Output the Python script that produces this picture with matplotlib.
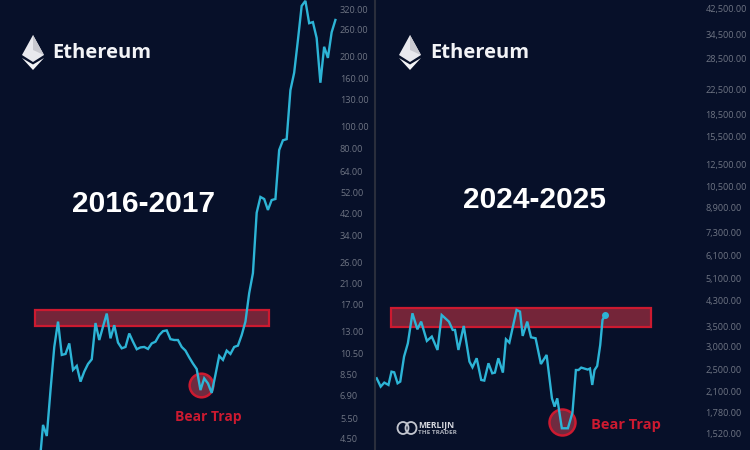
import matplotlib
matplotlib.use('Agg')
import matplotlib.pyplot as plt
from matplotlib.patches import Polygon, Rectangle, Ellipse

# Weekly closes
left_prices = [3.4, 5.17, 4.63, 7.31, 11.2, 14.4, 10.35, 10.45, 11.6, 8.92, 9.28, 7.94, 8.77, 9.46, 9.91,
               14.2, 12.0, 13.7, 15.6, 12.2, 13.9, 11.7, 11.05, 11.2, 12.8, 11.8, 10.95, 11.15, 11.2, 10.98,
               11.6, 11.8, 12.6, 13.1, 13.2, 12.1, 12.0, 12.0, 11.2, 10.8, 10.1, 9.5, 9.0, 7.3, 8.2,
               7.8, 7.1, 8.5, 10.25, 9.85, 10.8, 10.45, 11.2, 11.35, 12.6, 14.4, 19.1, 23.3, 42.4, 49.6,
               48.6, 43.6, 48.1, 48.6, 79, 87, 88, 143, 170, 235, 330, 347, 278, 281, 240,
               154, 220, 197, 254, 287]
left_weeks = list(range(-1, len(left_prices) - 1))

right_weeks = [0, 1.05, 2.0, 3.1, 3.9, 4.6, 5.5, 6.2, 7.2, 8.2, 9.4, 10.7, 11.7, 13.2, 14.5, 16.0, 17.1, 19.0,
               20.0, 20.6, 21.5, 22.9, 24.4, 25.2, 26.3, 27.5, 28.3, 29.4, 30.4, 31.1, 32.0, 33.2, 34.0, 34.9,
               36.8, 37.7, 38.4, 39.6, 40.6, 41.8, 43.2, 44.7, 46.1, 46.8, 47.5, 48.7, 50.3, 51.5, 52.4, 53.1,
               53.8, 55.5, 56.1, 56.7, 57.3, 58.0, 58.8, 59.4, 60.1]
right_prices = [2335, 2187, 2257, 2216, 2459, 2447, 2245, 2275, 2767, 3071, 3885, 3427, 3640, 3129, 3237, 2915,
                3833, 3640, 3410, 3410, 2915, 3518, 2661, 2545, 2732, 2304, 2293, 2626, 2428, 2441, 2732, 2441,
                3170, 3088, 3989, 3937, 3254, 3640, 3219, 3195, 2611, 2803, 1995, 1870, 1995, 1578, 1578, 1784,
                2491, 2491, 2539, 2500, 2520, 2216, 2491, 2571, 3031, 3687, 3833]

left_ticks = [320, 260, 200, 160, 130, 100, 80, 64, 52, 42, 34, 26, 21, 17, 13, 10.5, 8.5, 6.9, 5.5, 4.5]
right_ticks = [42500, 34500, 28500, 22500, 18500, 15500, 12500, 10500, 8900, 7300, 6100, 5100, 4300,
               3500, 3000, 2500, 2100, 1780, 1520]

left_zone = (-2.1, 60.3, 13.8, 16.2)
right_zone = (3.8, 72.2, 3500, 4040)
left_trap = (42.1, 7.66)
right_trap = (48.85, 1662)

BG = '#071029'
LINE = '#2db4d6'
RED = '#cc1a30'
TICK = '#6e7483'

plt.rcParams['font.family'] = ['Open Sans', 'DejaVu Sans']

fig = plt.figure(figsize=(7.5, 4.5), dpi=100, facecolor=BG)


def panel(rect, weeks, prices, ticks, labels, xlim, ylim, pad, zone, trap, trap_size):
    ax = fig.add_axes(rect, facecolor=BG)
    ax.set_yscale('log')
    ax.set_xlim(xlim)
    ax.set_ylim(ylim)
    ax.plot(weeks, prices, color=LINE, lw=1.7, solid_joinstyle='miter', zorder=3)
    x0, x1, y0, y1 = zone
    ax.add_patch(Rectangle((x0, y0), x1 - x0, y1 - y0, facecolor='#742539', edgecolor=RED, lw=1.6, zorder=2))
    ax.scatter([trap[0]], [trap[1]], s=trap_size, facecolor='#6f2b40', edgecolor=RED, linewidth=1.8, zorder=2)
    ax.yaxis.tick_right()
    ax.set_yticks(ticks)
    ax.set_yticklabels(labels)
    ax.minorticks_off()
    ax.set_xticks([])
    ax.tick_params(axis='y', length=0, pad=pad, labelsize=6.6, labelcolor=TICK)
    for s in ax.spines.values():
        s.set_visible(False)
    return ax


ax1 = panel([0, 0, 374 / 750, 1], left_weeks, left_prices, left_ticks, ['%.2f' % t for t in left_ticks],
            (-11.48, 88.3), (4.03, 349.9), -24.5, left_zone, left_trap, 290)
ax2 = panel([376 / 750, 0, 374 / 750, 1], right_weeks, right_prices, right_ticks,
            ['{:,.2f}'.format(t) for t in right_ticks],
            (-0.18, 98.2), (1331, 45250), -32, right_zone, right_trap, 350)
ax2.scatter([right_weeks[-1]], [right_prices[-1]], s=16, color=LINE, zorder=4)

# overlay in picture pixels for logos and captions
top = fig.add_axes([0, 0, 1, 1])
top.set_xlim(0, 750)
top.set_ylim(450, 0)
top.axis('off')
top.patch.set_alpha(0)
top.axvline(375, color='#2a2e3c', lw=1.5)


def eth_logo(cx):
    top.add_patch(Polygon([(cx, 35), (cx + 11, 55), (cx, 62), (cx - 11, 55)], color='#e9e9ee', lw=0))
    top.add_patch(Polygon([(cx, 35), (cx + 11, 55), (cx, 50)], color='#c9c9d0', lw=0))
    top.add_patch(Polygon([(cx - 11, 58), (cx, 64.5), (cx + 11, 58), (cx, 70)], color='#f4f4f6', lw=0))


for cx, tx in [(33, 52), (410, 430)]:
    eth_logo(cx)
    top.text(tx, 53, 'Ethereum', color='#f2f3f6', fontsize=14.5, fontweight='bold', va='center', ha='left')

top.text(144, 204, '2016-2017', color='white', family='Liberation Sans', fontsize=21.5, fontweight='bold', ha='center', va='center')
top.text(535, 200, '2024-2025', color='white', family='Liberation Sans', fontsize=21.5, fontweight='bold', ha='center', va='center')
top.text(208, 417, 'Bear Trap', color=RED, fontsize=10, fontweight='bold', ha='center', va='center')
top.text(626, 425, 'Bear Trap', color=RED, fontsize=10.5, fontweight='bold', ha='center', va='center')

# merlijn mark
for ex in [403, 411]:
    top.add_patch(Ellipse((ex, 428), 11, 12, fill=False, edgecolor='#c4c7d0', lw=1.3))
top.text(418, 426, 'MERLIJN', color='#d5d7de', fontsize=6.2, fontweight='bold', va='center', ha='left')
top.text(418, 432.5, 'THE TRADER', color='#a9adb8', fontsize=4.6, fontweight='bold', va='center', ha='left')

fig.savefig('out.png', dpi=100, facecolor=BG)
